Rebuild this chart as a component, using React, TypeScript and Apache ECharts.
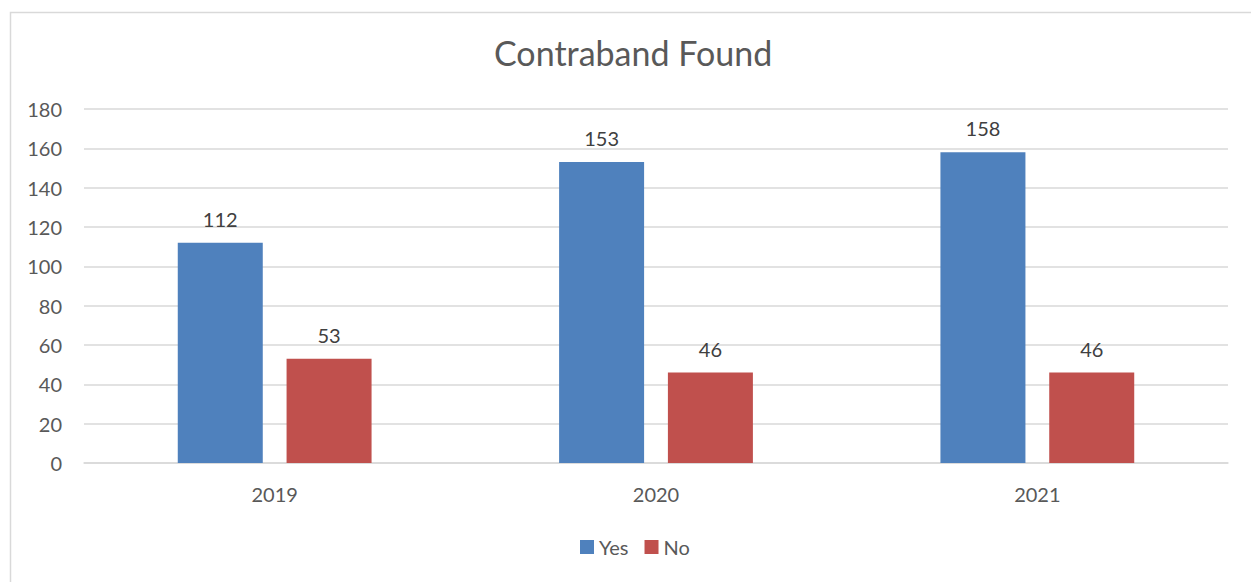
import React, { useEffect, useRef } from "react";
import * as echarts from "echarts";

const categories = ["2019", "2020", "2021"];
const yesValues = [112, 153, 158];
const noValues = [53, 46, 46];
const seriesNames = ["Yes", "No"];
const titleText = "Contraband Found";

export default function App() {
  const ref = useRef<HTMLDivElement>(null);
  useEffect(() => {
    if (!ref.current) return;
    const chart = echarts.init(ref.current, null, { renderer: "svg" });
    const font = "Lato, 'Open Sans', sans-serif";
    const labelStyle = { show: true, position: "top", color: "#404040", fontSize: 20, fontFamily: font, distance: 14 };
    chart.setOption({
      animation: false,
      backgroundColor: "#ffffff",
      title: {
        text: titleText,
        left: 489,
        top: 30,
        textStyle: { color: "#595959", fontSize: 34, fontWeight: "normal", fontFamily: font },
      },
      graphic: [
        {
          type: "rect",
          left: 8,
          top: 10,
          shape: { x: 0, y: 0, width: 1300, height: 620 },
          style: { fill: "none", stroke: "#d9d9d9", lineWidth: 1.5 },
          silent: true,
        },
      ],
      legend: {
        bottom: 20,
        left: 575,
        itemWidth: 14,
        itemHeight: 14,
        itemGap: 16,
        icon: "rect",
        textStyle: { color: "#595959", fontSize: 20, fontFamily: font },
        data: seriesNames,
      },
      grid: { left: 84, right: 23, top: 109, bottom: 119, containLabel: false },
      xAxis: {
        type: "category",
        data: categories,
        axisLine: { lineStyle: { color: "#d9d9d9", width: 1.5 } },
        axisTick: { show: false },
        axisLabel: { color: "#595959", fontSize: 20, fontFamily: font, margin: 21 },
      },
      yAxis: {
        type: "value",
        min: 0,
        max: 180,
        interval: 20,
        axisLine: { show: false },
        axisTick: { show: false },
        axisLabel: { color: "#595959", fontSize: 20, fontFamily: font, margin: 22 },
        splitLine: { lineStyle: { color: "#d9d9d9", width: 1.5 } },
      },
      series: [
        {
          name: seriesNames[0],
          type: "bar",
          data: yesValues,
          barWidth: 85,
          barGap: "28%",
          itemStyle: { color: "#4F81BD" },
          label: labelStyle,
        },
        {
          name: seriesNames[1],
          type: "bar",
          data: noValues,
          barWidth: 85,
          itemStyle: { color: "#C0504D" },
          label: labelStyle,
        },
      ],
    });
    return () => chart.dispose();
  }, []);
  return (
    <div
      ref={ref}
      style={{ position: "fixed", left: 0, top: 0, width: 1251, height: 582 }}
    />
  );
}
